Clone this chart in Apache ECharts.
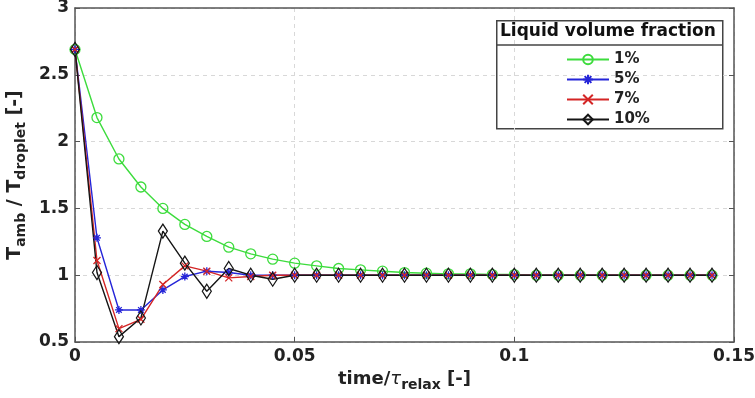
<!DOCTYPE html>
<html><head><meta charset="utf-8">
<script src="https://cdn.jsdelivr.net/npm/echarts@6/dist/echarts.min.js"></script>
<style>html,body{margin:0;padding:0;background:#fff}#c{width:755px;height:398px}</style>
</head><body><div id="c"></div>
<script>
const times = [0,0.005,0.01,0.015,0.02,0.025,0.03,0.035,0.04,0.045,0.05,0.055,0.06,0.065,0.07,0.075,0.08,0.085,0.09,0.095,0.1,0.105,0.11,0.115,0.12,0.125,0.13,0.135,0.14,0.145];
const vf1  = [2.69,2.18,1.87,1.66,1.50,1.38,1.29,1.21,1.16,1.12,1.09,1.07,1.05,1.04,1.03,1.02,1.015,1.01,1.01,1.005,1.005,1.0,1.0,1.0,1.0,1.0,1.0,1.0,1.0,1.0];
const vf5  = [2.69,1.28,0.74,0.74,0.89,0.99,1.03,1.02,1.0,1.0,1.0,1.0,1.0,1.0,1.0,1.0,1.0,1.0,1.0,1.0,1.0,1.0,1.0,1.0,1.0,1.0,1.0,1.0,1.0,1.0];
const vf7  = [2.69,1.11,0.60,0.67,0.93,1.07,1.03,0.98,0.99,1.0,1.0,1.0,1.0,1.0,1.0,1.0,1.0,1.0,1.0,1.0,1.0,1.0,1.0,1.0,1.0,1.0,1.0,1.0,1.0,1.0];
const vf10 = [2.69,1.02,0.54,0.68,1.33,1.09,0.88,1.05,1.0,0.97,1.0,1.0,1.0,1.0,1.0,1.0,1.0,1.0,1.0,1.0,1.0,1.0,1.0,1.0,1.0,1.0,1.0,1.0,1.0,1.0];
const seriesNames = ['1%','5%','7%','10%'];
const xTicks = ['0','0.05','0.1','0.15'];
const yTicks = ['0.5','1','1.5','2','2.5','3'];

const pair = arr => times.map((t,i)=>[t,arr[i]]);
const FONT = 'DejaVu Sans';
const FRAME = '#555';
const chart = echarts.init(document.getElementById('c'));
const asterisk = 'path://M5,0L5,10M0,5L10,5M1.5,1.5L8.5,8.5M8.5,1.5L1.5,8.5';
const cross = 'path://M0,0L10,10M10,0L0,10';
const diamond = 'path://M5,0L10,7L5,14L0,7Z';
const mk = (name, data, color, symbol, size, fill) => ({
  name, type:'line', data: pair(data), symbol, symbolSize: size, xAxisIndex:0, yAxisIndex:0,
  lineStyle:{color, width:1.4}, itemStyle:{color: fill, borderColor:color, borderWidth:1.3},
  emphasis:{disabled:true}, animation:false
});
const tickLab = {fontFamily:FONT, fontWeight:'bold', fontSize:17, color:'#222'};
const split = {show:true, lineStyle:{type:[4,4], color:'#d8d8d8'}};

chart.setOption({
  animation:false,
  textStyle:{fontFamily:FONT},
  grid:{left:75, right:21, top:8, bottom:56, containLabel:false, outerBoundsMode:'none'},
  xAxis:[{type:'value', min:0, max:0.15, interval:0.05, position:'bottom',
    axisLine:{show:true, onZero:false, lineStyle:{color:FRAME, width:1.5}},
    axisTick:{inside:true, length:5, lineStyle:{color:FRAME}},
    axisLabel:Object.assign({margin:6, formatter:(v)=>{const i=Math.round(v/0.05);return xTicks[i]||'';}}, tickLab),
    splitLine:split,
    name:'{b|time/}{t|τ}{s|relax}{b| [-]}', nameLocation:'middle', nameGap:24,
    nameTextStyle:{rich:{
      b:{fontFamily:FONT, fontWeight:'bold', fontSize:18, color:'#222'},
      t:{fontFamily:FONT, fontStyle:'italic', fontSize:18, color:'#222'},
      s:{fontFamily:FONT, fontWeight:'bold', fontSize:14, color:'#222', padding:[12,0,0,0]}
    }}
  },{type:'value', min:0, max:0.15, interval:0.05, position:'top',
    axisLine:{show:true, onZero:false, lineStyle:{color:FRAME, width:1.5}},
    axisTick:{show:false}, axisLabel:{show:false}, splitLine:{show:false}}],
  yAxis:[{type:'value', min:0.5, max:3, interval:0.5, position:'left',
    axisLine:{show:true, onZero:false, lineStyle:{color:FRAME, width:1.5}},
    axisTick:{inside:true, length:5, lineStyle:{color:FRAME}},
    axisLabel:Object.assign({margin:6, formatter:(v)=>{const i=Math.round((v-0.5)/0.5);return yTicks[i]||'';}}, tickLab),
    splitLine:split,
    name:'{b|T}{s|amb}{b| / T}{s|droplet}{b| [-]}', nameLocation:'middle', nameGap:40, nameRotate:90,
    nameTextStyle:{rich:{
      b:{fontFamily:FONT, fontWeight:'bold', fontSize:19, color:'#222'},
      s:{fontFamily:FONT, fontWeight:'bold', fontSize:14, color:'#222', padding:[12,0,0,0]}
    }}
  },{type:'value', min:0.5, max:3, interval:0.5, position:'right',
    axisLine:{show:true, onZero:false, lineStyle:{color:FRAME, width:1.5}},
    axisTick:{inside:true, length:5, lineStyle:{color:FRAME}}, axisLabel:{show:false}, splitLine:{show:false}}],
  legend:{
    data:seriesNames, orient:'vertical', left:561, top:47, itemGap:5,
    itemWidth:42, itemHeight:12,
    textStyle:{fontFamily:FONT, fontWeight:'bold', fontSize:15, lineHeight:14, color:'#222'}
  },
  graphic:[
    {type:'rect', left:496, top:20, shape:{width:226, height:108}, style:{fill:'#fff', stroke:'#444', lineWidth:1.5}, z:0},
    {type:'line', shape:{x1:496, y1:45, x2:722, y2:45}, style:{stroke:'#444', lineWidth:1.5}, z:1},
    {type:'text', left:500, top:23, style:{text:'Liquid volume fraction', font:'bold 17px "DejaVu Sans"', fill:'#111'}, z:1}
  ],
  series:[
    mk('1%', vf1, '#3ddc3d', 'circle', 10, 'rgba(0,0,0,0)'),
    mk('5%', vf5, '#2525d8', asterisk, 8, 'rgba(0,0,0,0)'),
    mk('7%', vf7, '#d42525', cross, 7, 'rgba(0,0,0,0)'),
    mk('10%', vf10, '#151515', diamond, [9,14], 'rgba(0,0,0,0)')
  ]
});
</script></body></html>
